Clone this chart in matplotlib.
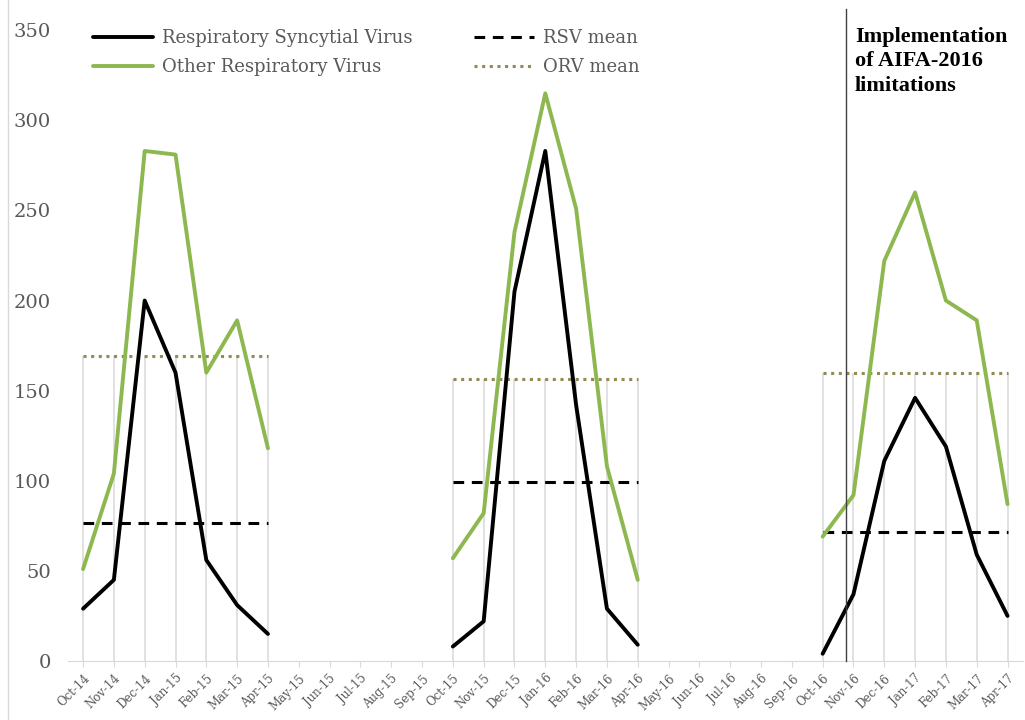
import matplotlib
matplotlib.use("Agg")
import matplotlib.pyplot as plt
import numpy as np

months = ["Oct-14","Nov-14","Dec-14","Jan-15","Feb-15","Mar-15","Apr-15","May-15","Jun-15","Jul-15",
          "Aug-15","Sep-15","Oct-15","Nov-15","Dec-15","Jan-16","Feb-16","Mar-16","Apr-16","May-16",
          "Jun-16","Jul-16","Aug-16","Sep-16","Oct-16","Nov-16","Dec-16","Jan-17","Feb-17","Mar-17","Apr-17"]

# season start indices (Oct of each season), 7 months each
season_starts = [0, 12, 24]

rsv_s1 = [29, 45, 200, 160, 56, 31, 15]
rsv_s2 = [8, 22, 205, 283, 142, 29, 9]
rsv_s3 = [4, 37, 111, 146, 119, 59, 25]

orv_s1 = [51, 104, 283, 281, 160, 189, 118]
orv_s2 = [57, 82, 238, 315, 251, 108, 45]
orv_s3 = [69, 92, 222, 260, 200, 189, 87]

rsv_mean = [76.6, 99.4, 71.6]
orv_mean = [169.5, 156.6, 159.9]

implementation_pos = 24.75
annot_text = "Implementation\nof AIFA-2016\nlimitations"

plt.rcParams['font.family'] = ['DejaVu Serif']

fig = plt.figure(figsize=(10.25, 7.2), dpi=100)
ax = fig.add_axes([0.066, 0.082, 0.932, 0.876])

green = "#8DB850"
olive = "#948A54"
txtgray = "#595959"

rsv_all = [rsv_s1, rsv_s2, rsv_s3]
orv_all = [orv_s1, orv_s2, orv_s3]

for k, st in enumerate(season_starts):
    x = np.arange(st, st + 7)
    # drop lines to ORV mean
    ax.vlines(x, 0, orv_mean[k], color="#DCDCDC", lw=1.2, zorder=1)
    ax.plot(x, orv_all[k], color=green, lw=2.8, zorder=3,
            label="Other Respiratory Virus" if k == 0 else None, solid_capstyle='round')
    ax.plot(x, rsv_all[k], color="black", lw=2.8, zorder=4,
            label="Respiratory Syncytial Virus" if k == 0 else None, solid_capstyle='round')
    ax.plot([x[0], x[-1]], [rsv_mean[k]] * 2, color="black", lw=2.2, ls=(0, (3.5, 2.5)), zorder=2,
            label="RSV mean" if k == 0 else None)
    ax.plot([x[0], x[-1]], [orv_mean[k]] * 2, color=olive, lw=2.2, ls=(0, (1, 1.5)), zorder=2,
            label="ORV mean" if k == 0 else None)

ax.plot([implementation_pos, implementation_pos], [0, 362], color="#404040", lw=1.0,
        zorder=5, clip_on=False)
ax.text(implementation_pos + 0.3, 352, annot_text, fontsize=16, fontweight="bold",
        family="Liberation Serif", va="top", ha="left", color="black", linespacing=1.3)

ax.set_xlim(-0.5, 30.5)
ax.set_ylim(0, 350)
ax.set_yticks(np.arange(0, 351, 50))
ax.set_xticks(np.arange(len(months)))
ax.set_xticklabels(months, rotation=45, ha="right", rotation_mode="anchor", fontsize=8.5, color=txtgray)
ax.tick_params(axis="y", length=0, labelsize=14, labelcolor=txtgray, pad=12)
ax.tick_params(axis="x", length=4, color="#D9D9D9", pad=4)
for s in ["top", "right", "left"]:
    ax.spines[s].set_visible(False)
ax.spines["bottom"].set_color("#D9D9D9")

handles, labels = ax.get_legend_handles_labels()
order = [labels.index(l) for l in ["Respiratory Syncytial Virus", "Other Respiratory Virus", "RSV mean", "ORV mean"]]
leg = ax.legend([handles[i] for i in order], [labels[i] for i in order], ncol=2,
                loc="upper left", bbox_to_anchor=(0.01, 1.027), frameon=False,
                fontsize=13, handlelength=3.3, columnspacing=3.4, labelspacing=0.6,
                handletextpad=0.5, labelcolor=txtgray)

# left border line
fig.add_artist(plt.Line2D([0.008, 0.008], [0.0, 1.0], color="#D9D9D9", lw=1.0))

fig.savefig("out.png", dpi=100, facecolor="white")
